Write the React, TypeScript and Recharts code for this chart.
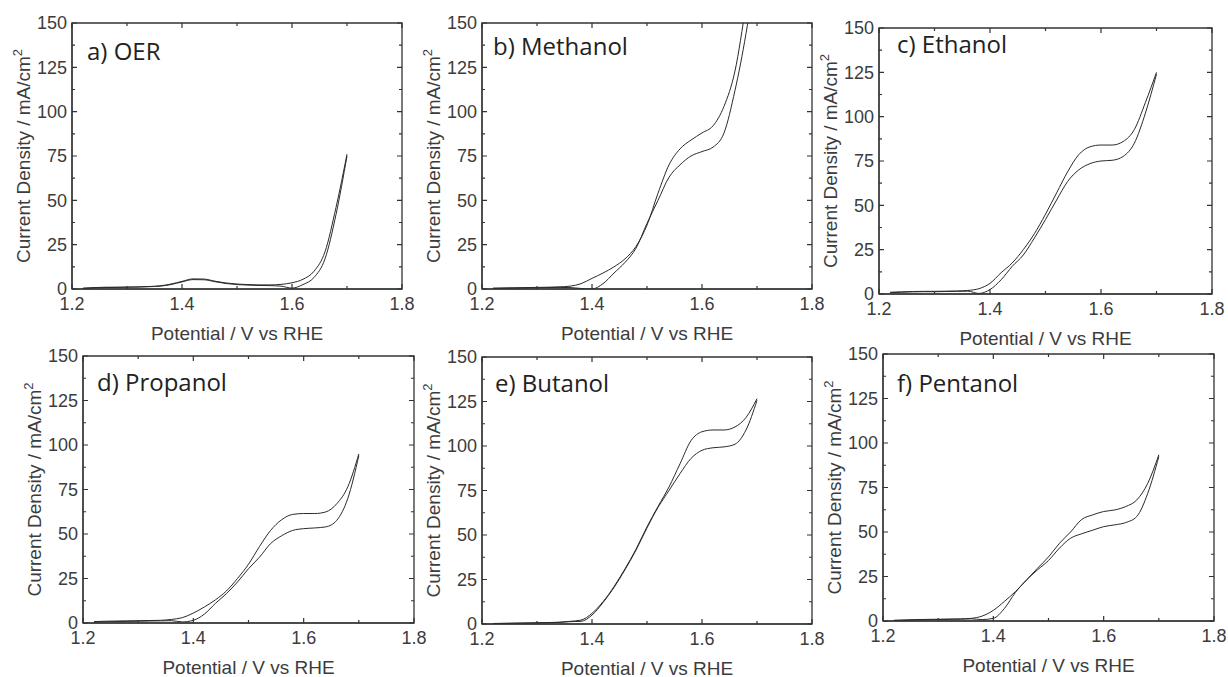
import React from 'react';
import { LineChart, Line, XAxis, YAxis, ReferenceArea } from 'recharts';

// potential grid (V vs RHE) shared by every sweep
const potential = [
  1.22, 1.24, 1.26, 1.28, 1.3, 1.32, 1.34, 1.36, 1.38, 1.4, 1.42, 1.44, 1.46,
  1.48, 1.5, 1.52, 1.54, 1.56, 1.58, 1.6, 1.62, 1.64, 1.66, 1.68, 1.7,
];

const xTicks = [1.2, 1.3, 1.4, 1.5, 1.6, 1.7, 1.8];
const yTicks = [0, 12.5, 25, 37.5, 50, 62.5, 75, 87.5, 100, 112.5, 125, 137.5, 150];

// current density, mA/cm2 (upper / lower branch of each scan)
const oerUp = [0.5, 0.8, 1, 1, 1.1, 1.2, 1.4, 1.8, 2.8, 4.3, 5.7, 5.6, 4.4, 3.4, 2.8, 2.5, 2.3, 2.3, 2.6, 3.5, 5.5, 10, 21, 46, 76];
const oerDown = [0.3, 0.6, 0.8, 0.9, 1, 1.1, 1.3, 1.6, 2.5, 4, 5.3, 5.2, 4.1, 3.1, 2.5, 2.2, 2, 1.9, 1.6, 0.5, 2.5, 6.5, 17, 42, 75];

const methanolUp = [0.5, 0.6, 0.7, 0.8, 0.9, 1, 1.2, 1.6, 3, 6, 9, 12.5, 17, 24, 36, 54, 70, 79, 84, 88, 92, 103, 123, 160, 200];
const methanolDown = [0.3, 0.4, 0.5, 0.6, 0.7, 0.8, 0.9, 0.8, 0.3, 0, 3, 9, 15, 23, 37, 50, 63, 70, 75, 77.5, 80, 88, 112, 144, 185];

const ethanolUp = [1, 1.2, 1.4, 1.5, 1.5, 1.6, 1.7, 2, 3, 6, 12, 17.5, 25, 34, 45, 57, 69, 78.6, 83, 84, 84, 86, 92.7, 108, 125];
const ethanolDown = [0.7, 1, 1.2, 1.3, 1.3, 1.4, 1.5, 1.6, 0.3, 2.5, 8, 15.6, 22, 31.6, 42, 53, 63.5, 70, 73.5, 75, 75.4, 77.6, 85, 102, 124];

const propanolUp = [0.8, 1, 1.1, 1.2, 1.3, 1.4, 1.5, 2, 3, 5.6, 9, 13, 18, 25, 33, 43, 52, 58, 61, 61.5, 61.5, 62.4, 67, 76.5, 95];
const propanolDown = [0.5, 0.7, 0.8, 0.9, 1, 1.1, 1.2, 1.3, 0.6, 1.5, 5, 11, 16.5, 23, 30.5, 37, 44.6, 49, 52, 53, 53.4, 54, 57.7, 70, 94];

const butanolUp = [0.3, 0.4, 0.5, 0.6, 0.7, 0.8, 1, 1.5, 2.2, 6, 12.5, 21, 31, 42, 54.6, 66, 77, 90, 103, 108, 109, 109, 110.7, 116, 126.6];
const butanolDown = [0.2, 0.3, 0.4, 0.5, 0.6, 0.7, 0.9, 1.3, 1.5, 5, 12, 20.5, 30.5, 41.5, 54, 65.5, 75, 84.5, 93, 97.6, 99, 99.5, 101, 109, 125.6];

const pentanolUp = [0.4, 0.6, 0.8, 0.9, 1, 1.1, 1.2, 1.5, 2.8, 6, 11, 16.5, 23, 29.6, 36, 43.7, 50, 57, 59.6, 61.5, 62.4, 64.3, 68, 77.4, 93.4];
const pentanolDown = [0.3, 0.4, 0.6, 0.7, 0.8, 0.9, 1, 1.2, 0.8, 1.5, 7, 16, 23, 28.7, 34, 41, 46.5, 49, 51, 53, 54, 55.3, 58.7, 71.8, 92.4];

const titles = ['a) OER', 'b) Methanol', 'c) Ethanol', 'd) Propanol', 'e) Butanol', 'f) Pentanol'];
const ups = [oerUp, methanolUp, ethanolUp, propanolUp, butanolUp, pentanolUp];
const downs = [oerDown, methanolDown, ethanolDown, propanolDown, butanolDown, pentanolDown];

// layout: plot boxes on the page and title offsets
const boxes = [
  { l: 72, t: 23, w: 330, h: 266, tx: 15, ty: 37 },
  { l: 482, t: 23, w: 330, h: 266, tx: 11, ty: 32 },
  { l: 879, t: 28, w: 333, h: 266, tx: 18, ty: 25 },
  { l: 83, t: 356, w: 331, h: 267, tx: 14, ty: 35 },
  { l: 482, t: 357, w: 330, h: 267, tx: 13, ty: 35 },
  { l: 883, t: 354, w: 331, h: 267, tx: 14, ty: 38 },
];

const LEFT = 80;
const TOP = 12;
const RIGHT = 14;
const BOTTOM = 60;
const X_GAP = 8;
const Y_GAP = 5;
const INK = '#333';
const TEXT = '#3c3c3c';
const SANS = '"Liberation Sans", Arial, sans-serif';

const toSeries = (vals: number[]) => potential.map((E, i) => ({ E, j: vals[i] }));

// inward ticks on both opposite edges, labels only on the majors
const XTick = (props: any) => {
  const { x, y, payload, plotH } = props;
  const v = payload.value;
  const major = Math.abs(v * 5 - Math.round(v * 5)) < 1e-6;
  const bottom = TOP + plotH;
  const len = major ? 5 : 3;
  return (
    <g>
      <path d={`M${x},${bottom}v${-len}M${x},${TOP}v${len}`} stroke={INK} strokeWidth={1.2} fill="none" />
      {major && (
        <text x={x} y={y} dy="0.71em" textAnchor="middle" fontSize={18} fontFamily={SANS} fill={TEXT}>
          {v.toFixed(1)}
        </text>
      )}
    </g>
  );
};

const YTick = (props: any) => {
  const { x, y, payload, plotW } = props;
  const v = payload.value;
  const major = v % 25 === 0;
  const len = major ? 5 : 3;
  return (
    <g>
      <path d={`M${LEFT},${y}h${len}M${LEFT + plotW},${y}h${-len}`} stroke={INK} strokeWidth={1.2} fill="none" />
      {major && (
        <text x={x} y={y} dy="0.35em" textAnchor="end" fontSize={18} fontFamily={SANS} fill={TEXT}>
          {v}
        </text>
      )}
    </g>
  );
};

const Panel = ({ idx }: { idx: number }) => {
  const b = boxes[idx];
  const width = b.w + LEFT + RIGHT;
  const height = b.h + TOP + BOTTOM;
  return (
    <div style={{ position: 'absolute', left: b.l - LEFT, top: b.t - TOP }}>
      <LineChart width={width} height={height} margin={{ top: TOP, right: RIGHT, left: 0, bottom: 0 }}>
        <XAxis
          dataKey="E"
          type="number"
          domain={[1.2, 1.8]}
          ticks={xTicks}
          interval={0}
          allowDataOverflow
          height={BOTTOM}
          tickSize={0}
          tickLine={false}
          tickMargin={X_GAP}
          axisLine={{ stroke: INK, strokeWidth: 1.2 }}
          tick={(p: any) => <XTick {...p} plotH={b.h} />}
          label={{
            content: () => (
              <text x={LEFT + b.w / 2} y={TOP + b.h + 44} dy="0.35em" textAnchor="middle" fontSize={19} fontFamily={SANS} fill={TEXT}>
                Potential / V vs RHE
              </text>
            ),
          }}
        />
        <YAxis
          type="number"
          domain={[0, 150]}
          ticks={yTicks}
          interval={0}
          allowDataOverflow
          width={LEFT}
          tickSize={0}
          tickLine={false}
          tickMargin={Y_GAP}
          axisLine={{ stroke: INK, strokeWidth: 1.2 }}
          tick={(p: any) => <YTick {...p} plotW={b.w} />}
          label={{
            content: () => {
              const cx = LEFT - 49;
              const cy = TOP + b.h / 2;
              return (
                <text x={cx} y={cy} dy="0.35em" textAnchor="middle" transform={`rotate(-90 ${cx} ${cy})`} fontSize={19} fontFamily={SANS} fill={TEXT}>
                  Current Density / mA/cm
                  <tspan dy={-8} fontSize={13}>2</tspan>
                </text>
              );
            },
          }}
        />
        <ReferenceArea
          x1={1.2}
          x2={1.8}
          y1={0}
          y2={150}
          fill="none"
          fillOpacity={0}
          stroke={INK}
          strokeWidth={1.3}
          label={{
            content: () => (
              <text x={LEFT + b.tx} y={TOP + b.ty} fontSize={24} fontFamily='"Open Sans", sans-serif' fill="#222">
                {titles[idx]}
              </text>
            ),
          }}
        />
        <Line data={toSeries(ups[idx])} dataKey="j" type="monotone" stroke="#2a2a2a" strokeWidth={1} dot={false} activeDot={false} isAnimationActive={false} />
        <Line data={toSeries(downs[idx])} dataKey="j" type="monotone" stroke="#2a2a2a" strokeWidth={1} dot={false} activeDot={false} isAnimationActive={false} />
      </LineChart>
    </div>
  );
};

export default function App() {
  return (
    <div style={{ position: 'absolute', left: 0, top: 0, width: 1228, height: 677, background: '#fff', overflow: 'hidden' }}>
      {titles.map((t, i) => (
        <Panel key={t} idx={i} />
      ))}
    </div>
  );
}
